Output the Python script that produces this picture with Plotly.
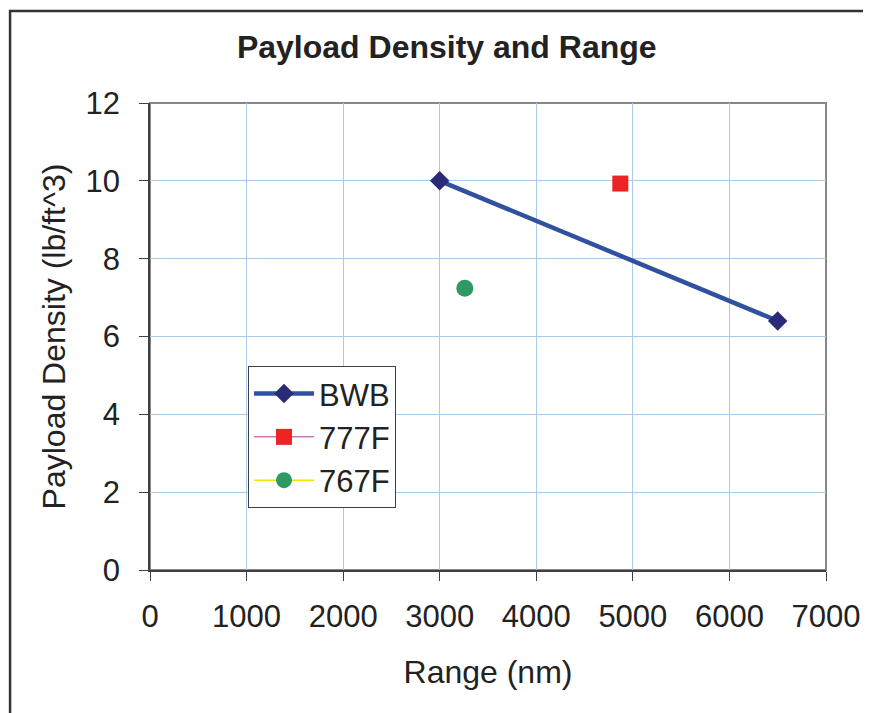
import plotly.graph_objects as go

# data
bwb_range = [3000, 6500]
bwb_density = [10.0, 6.4]
f777_range = [4870]
f777_density = [9.93]
f767_range = [3260]
f767_density = [7.24]

x_ticks = [0, 1000, 2000, 3000, 4000, 5000, 6000, 7000]
y_ticks = [0, 2, 4, 6, 8, 10, 12]

font = "Liberation Sans, Arial, sans-serif"

fig = go.Figure()
fig.add_trace(go.Scatter(
    x=bwb_range, y=bwb_density, name="BWB", mode="lines+markers",
    line=dict(color="#3050a0", width=4.5),
    marker=dict(symbol="diamond", size=15, color="#2a2a78")))
fig.add_trace(go.Scatter(
    x=f777_range, y=f777_density, name="777F", mode="lines+markers",
    line=dict(color="#c878b8", width=1.5),
    marker=dict(symbol="square", size=16, color="#ee2424")))
fig.add_trace(go.Scatter(
    x=f767_range, y=f767_density, name="767F", mode="lines+markers",
    line=dict(color="#f2e400", width=1.5),
    marker=dict(symbol="circle", size=17, color="#2e9962")))

axis_common = dict(
    showgrid=True, gridcolor="#a9cbea", gridwidth=1,
    showline=True, linecolor="#404040", linewidth=1.5,
    ticks="outside", ticklen=9, tickcolor="#404040",
    tickfont=dict(size=31, color="#222"), zeroline=False,
)

fig.update_xaxes(range=[0, 7000], tickvals=x_ticks, ticklabelstandoff=9,
                 title=dict(text="Range (nm)", font=dict(size=32, color="#222"), standoff=28),
                 **axis_common)
fig.update_yaxes(range=[0, 12], tickvals=y_ticks, ticklabelstandoff=13,
                 title=dict(text="Payload Density (lb/ft^3)", font=dict(size=32, color="#222"), standoff=10),
                 **axis_common)

fig.update_layout(
    width=871, height=713,
    margin=dict(l=142, r=53, t=95, b=151),
    paper_bgcolor="white", plot_bgcolor="white",
    font=dict(family=font, color="#222"),
    title=dict(text="<b>Payload Density and Range</b>", xref="paper", x=0.439, xanchor="center",
               y=0.945, yanchor="middle", font=dict(size=32, color="#222")),
    legend=dict(x=0.145, y=0.437, xanchor="left", yanchor="top",
                bordercolor="#404040", borderwidth=1, bgcolor="white",
                font=dict(size=31, color="#222"), tracegroupgap=0,
                itemwidth=60),
    showlegend=True,
    shapes=[
        # outer frame of the chart
        dict(type="rect", xref="paper", yref="paper", x0=-0.207, x1=2, y0=-1, y1=1.197,
             line=dict(color="#333", width=2.5), layer="below"),
        # plot area border
        dict(type="rect", xref="paper", yref="paper", x0=0, x1=1, y0=0, y1=1,
             line=dict(color="#888", width=2), layer="below"),
    ],
)

fig.write_html("out.html")
